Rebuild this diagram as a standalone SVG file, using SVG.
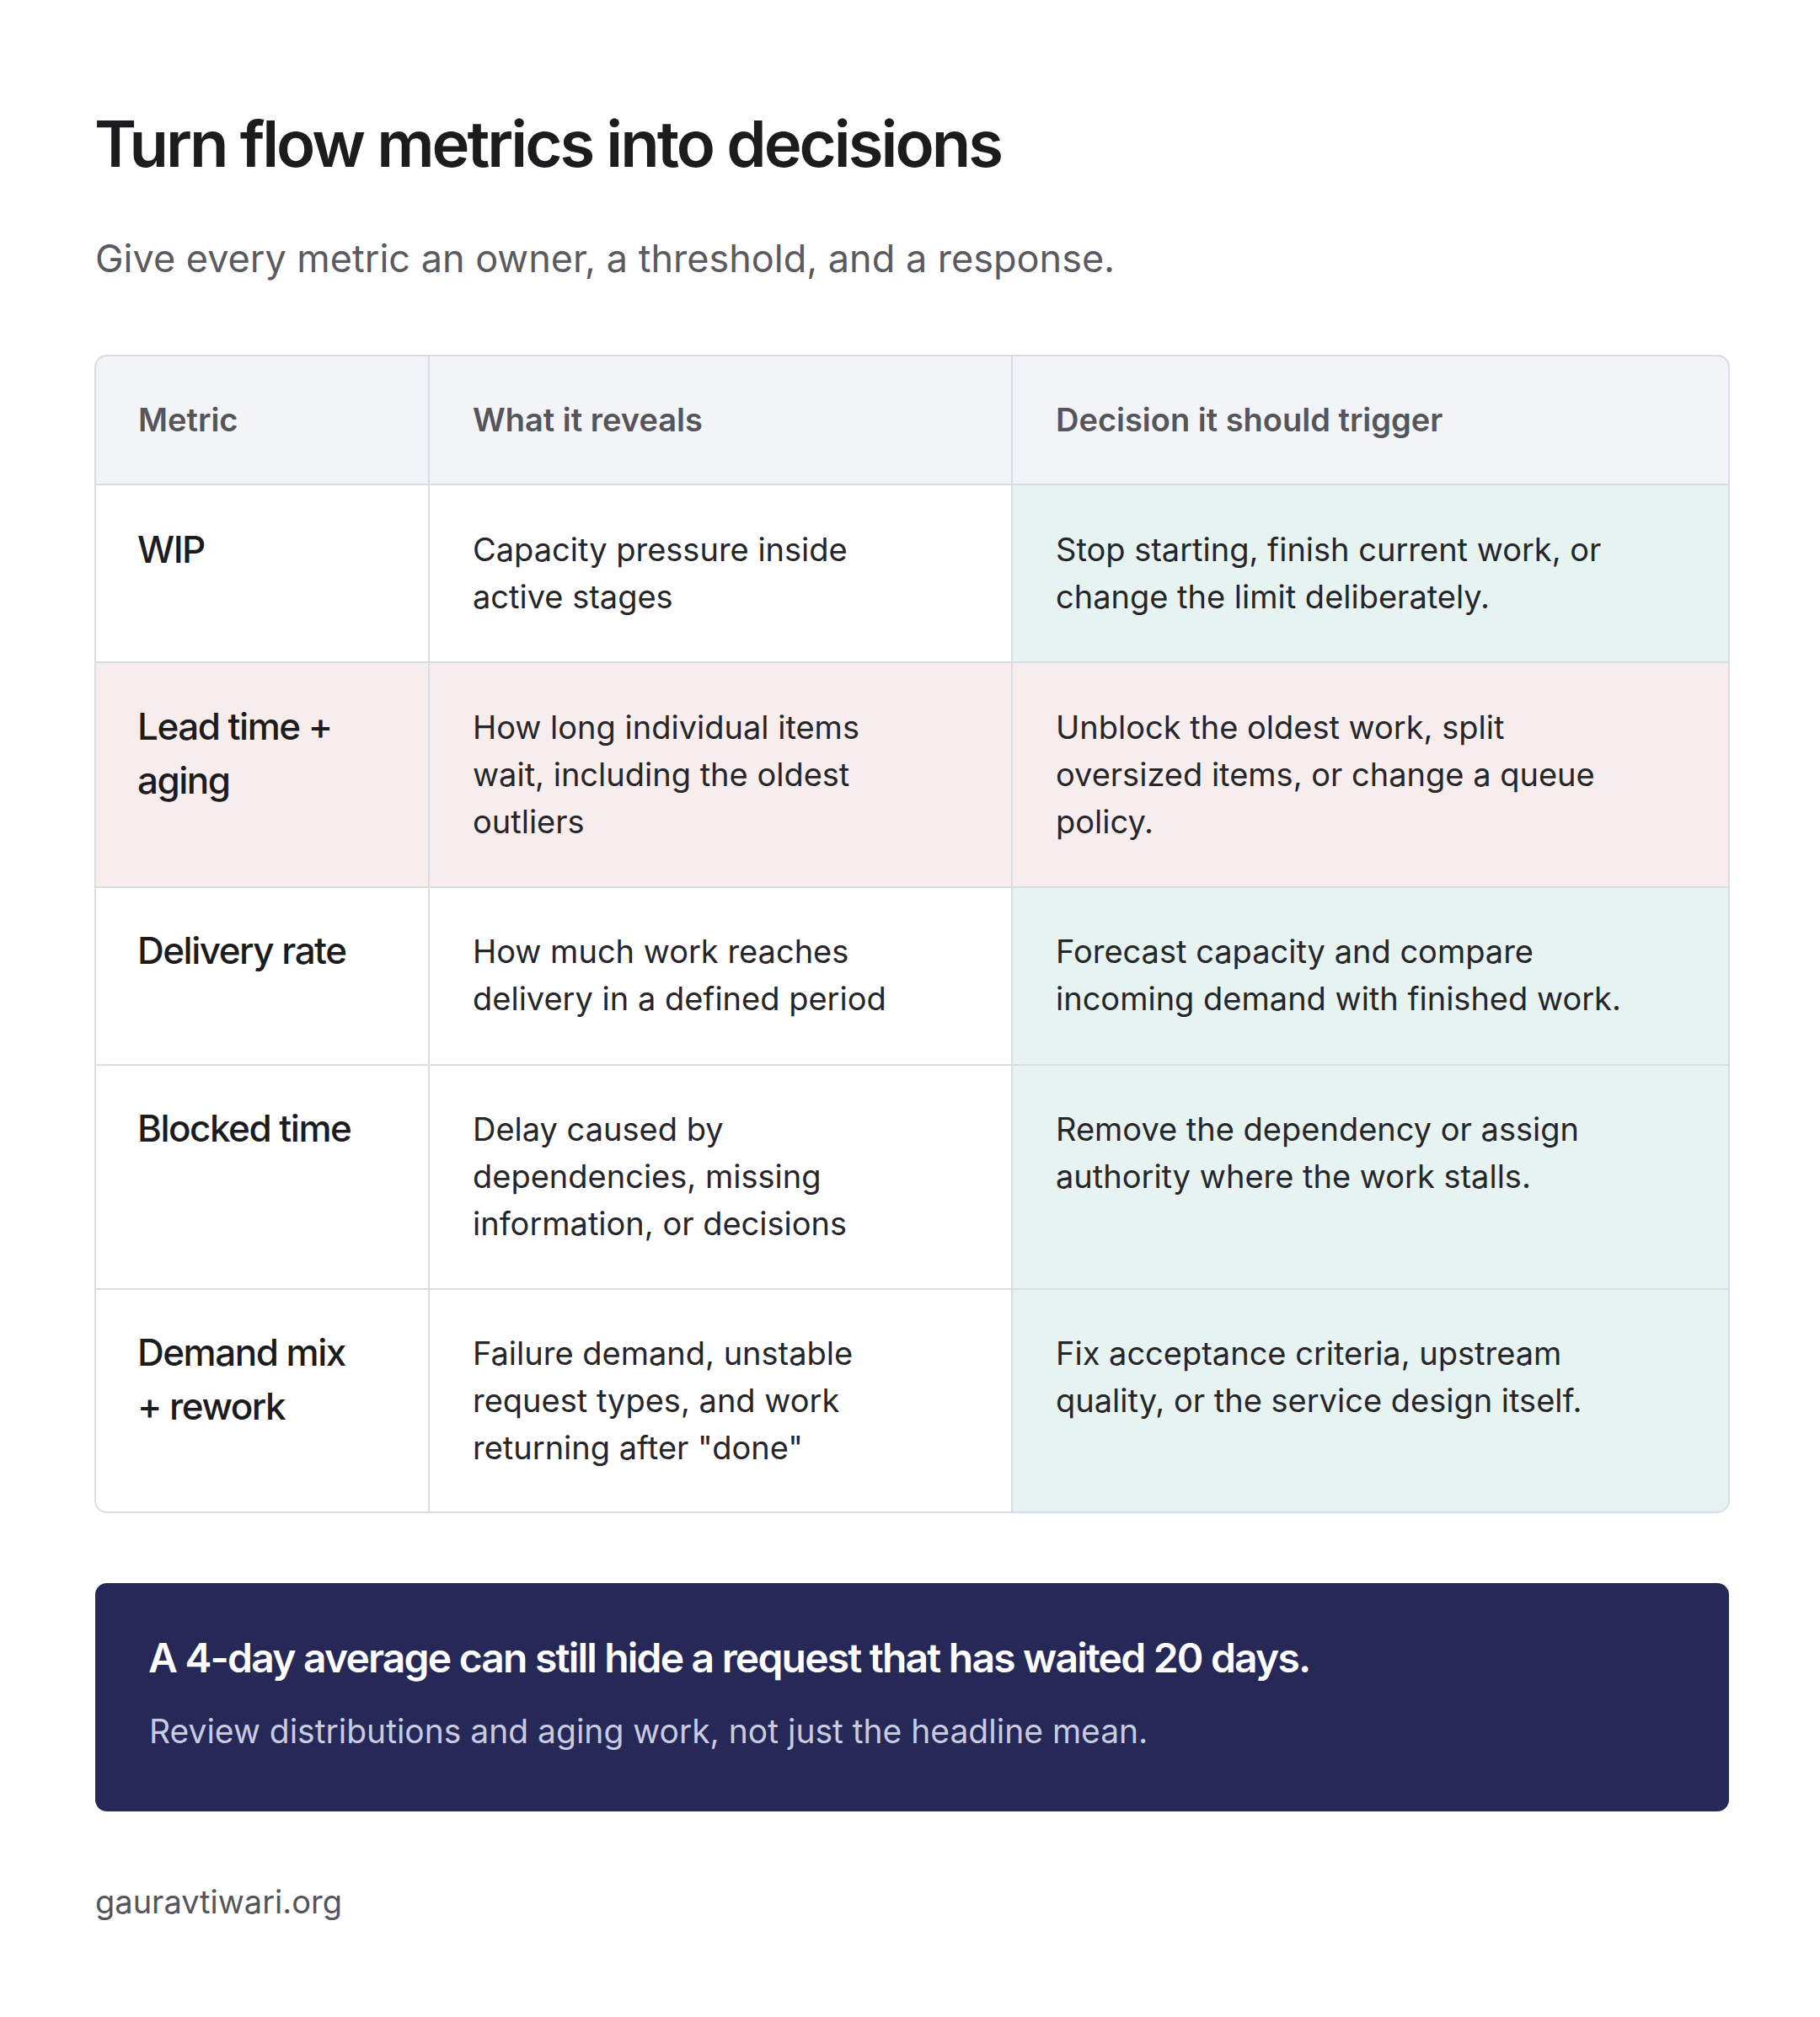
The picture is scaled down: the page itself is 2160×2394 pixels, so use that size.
<svg xmlns="http://www.w3.org/2000/svg" width="2160" height="2394" viewBox="0 0 2160 2394">
<style>
text{font-family:Inter,"Noto Sans",sans-serif}
.t{font-size:76px;font-weight:600;fill:#1c1c1e;letter-spacing:-3px}
.s{font-size:45px;fill:#5a5a60}
.h{font-size:38px;font-weight:600;fill:#55555a}
.b{font-size:38px;fill:#26262a}
.m{font-size:44px;font-weight:500;fill:#1c1c1e;letter-spacing:-1.5px}
.ln{stroke:#dadce4;stroke-width:2;fill:none}
</style>
<rect width="2160" height="2394" fill="#fff"/>
<text class="t" x="112" y="198">Turn flow metrics into decisions</text>
<text class="s" x="113" y="323">Give every metric an owner, a threshold, and a response.</text>
<g id="table">
<clipPath id="c"><rect x="113" y="422" width="1939" height="1373" rx="14"/></clipPath>
<g clip-path="url(#c)">
<rect x="113" y="422" width="1939" height="153" fill="#f3f4f7"/>
<rect x="1201" y="575" width="851" height="1220" fill="#e6f3f1"/>
<rect x="113" y="786" width="1939" height="267" fill="#f8eded"/>
</g>
<rect class="ln" x="113" y="422" width="1939" height="1373" rx="14"/>
<path class="ln" d="M509 422V1795M1201 422V1795M113 575H2052M113 786H2052M113 1053H2052M113 1264H2052M113 1530H2052"/>
</g>
<g id="header">
<text class="h" x="164" y="512">Metric</text>
<text class="h" x="561" y="512">What it reveals</text>
<text class="h" x="1253" y="512">Decision it should trigger</text>
</g>
<g id="row1">
<text class="m" x="163" y="668">WIP</text>
<text class="b" x="561" y="666">Capacity pressure inside</text>
<text class="b" x="561" y="722">active stages</text>
<text class="b" x="1253" y="666">Stop starting, finish current work, or</text>
<text class="b" x="1253" y="722">change the limit deliberately.</text>
</g>
<g id="row2">
<text class="m" x="163" y="878">Lead time +</text>
<text class="m" x="163" y="942">aging</text>
<text class="b" x="561" y="877">How long individual items</text>
<text class="b" x="561" y="933">wait, including the oldest</text>
<text class="b" x="561" y="989">outliers</text>
<text class="b" x="1253" y="877">Unblock the oldest work, split</text>
<text class="b" x="1253" y="933">oversized items, or change a queue</text>
<text class="b" x="1253" y="989">policy.</text>
</g>
<g id="row3">
<text class="m" x="163" y="1144">Delivery rate</text>
<text class="b" x="561" y="1143">How much work reaches</text>
<text class="b" x="561" y="1199">delivery in a defined period</text>
<text class="b" x="1253" y="1143">Forecast capacity and compare</text>
<text class="b" x="1253" y="1199">incoming demand with finished work.</text>
</g>
<g id="row4">
<text class="m" x="163" y="1355">Blocked time</text>
<text class="b" x="561" y="1354">Delay caused by</text>
<text class="b" x="561" y="1410">dependencies, missing</text>
<text class="b" x="561" y="1466">information, or decisions</text>
<text class="b" x="1253" y="1354">Remove the dependency or assign</text>
<text class="b" x="1253" y="1410">authority where the work stalls.</text>
</g>
<g id="row5">
<text class="m" x="163" y="1621">Demand mix</text>
<text class="m" x="163" y="1685">+ rework</text>
<text class="b" x="561" y="1620">Failure demand, unstable</text>
<text class="b" x="561" y="1676">request types, and work</text>
<text class="b" x="561" y="1732">returning after "done"</text>
<text class="b" x="1253" y="1620">Fix acceptance criteria, upstream</text>
<text class="b" x="1253" y="1676">quality, or the service design itself.</text>
</g>
<g id="banner">
<rect x="113" y="1879" width="1939" height="271" rx="14" fill="#262858"/>
<text x="176" y="1985" font-size="48" font-weight="600" fill="#fff" letter-spacing="-1.8">A 4-day average can still hide a request that has waited 20 days.</text>
<text x="177" y="2069" font-size="39" fill="#c9cbe0">Review distributions and aging work, not just the headline mean.</text>
</g>
<text x="113" y="2271" font-size="38" fill="#55555a">gauravtiwari.org</text>
</svg>
